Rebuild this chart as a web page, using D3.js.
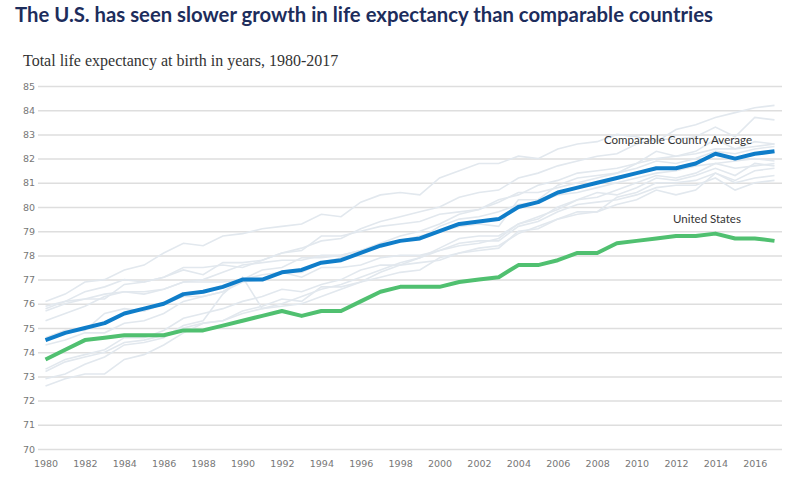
<!DOCTYPE html>
<html>
<head>
<meta charset="utf-8">
<script src="https://cdn.jsdelivr.net/npm/d3@7"></script>
<style>
  html, body { margin: 0; padding: 0; background: #fff; }
  svg { display: block; }
</style>
</head>
<body>
<svg id="chart" width="800" height="479"></svg>
<script>
const years = d3.range(1980, 2018);
const yTicks = [70,71,72,73,74,75,76,77,78,79,80,81,82,83,84,85];
const xTicks = d3.range(1980, 2017, 2);

const usValues = [73.7,74.1,74.5,74.6,74.7,74.7,74.7,74.9,74.9,75.1,75.3,75.5,75.7,75.5,75.7,75.7,76.1,76.5,76.7,76.7,76.7,76.9,77.0,77.1,77.6,77.6,77.8,78.1,78.1,78.5,78.6,78.7,78.8,78.8,78.9,78.7,78.7,78.6];
const avgValues = [74.5,74.8,75.0,75.2,75.6,75.8,76.0,76.4,76.5,76.7,77.0,77.0,77.3,77.4,77.7,77.8,78.1,78.4,78.6,78.7,79.0,79.3,79.4,79.5,80.0,80.2,80.6,80.8,81.0,81.2,81.4,81.6,81.6,81.8,82.2,82.0,82.2,82.3];

const japan = [76.1,76.4,76.9,77.0,77.4,77.6,78.1,78.5,78.4,78.8,78.9,79.1,79.2,79.3,79.7,79.6,80.2,80.5,80.6,80.5,81.2,81.5,81.8,81.8,82.1,82.0,82.4,82.6,82.7,83.0,82.9,82.7,83.2,83.4,83.7,83.9,84.1,84.2];
const sweden = [75.8,76.1,76.5,76.7,77.0,76.9,77.1,77.4,77.2,77.7,77.7,77.8,78.1,78.2,78.8,78.8,79.0,79.2,79.3,79.4,79.7,79.8,79.9,80.2,80.6,80.6,80.8,81.0,81.2,81.4,81.6,81.9,81.8,82.0,82.3,82.2,82.4,82.5];
const switzerland = [75.7,76.0,76.2,76.2,76.8,76.9,77.1,77.5,77.5,77.6,77.5,77.8,78.1,78.3,78.6,78.7,79.1,79.4,79.6,79.8,80.0,80.4,80.6,80.7,81.2,81.4,81.7,81.9,82.1,82.2,82.6,82.8,82.8,82.9,83.3,82.9,83.7,83.6];
const netherlands = [75.9,76.1,76.2,76.4,76.5,76.5,76.6,76.9,76.9,76.9,77.0,77.2,77.3,77.1,77.5,77.5,77.6,77.9,78.0,78.0,78.2,78.4,78.5,78.7,79.3,79.6,79.9,80.3,80.4,80.7,81.0,81.3,81.2,81.4,81.8,81.6,81.7,81.8];
const australia = [74.6,74.9,74.9,75.6,75.8,75.7,76.0,76.3,76.3,76.5,77.0,77.4,77.5,77.9,77.9,78.0,78.2,78.5,78.8,79.0,79.3,79.7,79.9,80.3,80.5,80.9,81.1,81.4,81.5,81.6,81.8,82.0,82.1,82.2,82.4,82.4,82.5,82.6];
const canada = [75.3,75.6,75.9,76.3,76.5,76.4,76.6,76.9,77.0,77.3,77.6,77.7,77.8,77.8,78.0,78.0,78.2,78.4,78.6,78.7,79.2,79.5,79.6,79.8,80.1,80.2,80.5,80.6,80.8,81.0,81.2,81.4,81.5,81.7,81.8,81.9,82.0,81.9];
const france = [74.3,74.5,74.8,74.8,75.2,75.3,75.6,76.1,76.3,76.5,76.9,77.0,77.3,77.3,77.7,77.9,78.1,78.4,78.6,78.8,79.0,79.2,79.3,79.2,80.3,80.3,80.9,81.2,81.3,81.4,81.8,82.3,82.1,82.3,82.8,82.4,82.7,82.6];
const belgium = [73.3,73.7,73.9,74.1,74.6,74.6,74.9,75.4,75.6,75.8,76.1,76.3,76.6,76.5,76.8,77.0,77.4,77.6,77.6,77.7,77.8,78.1,78.2,78.3,79.0,79.1,79.5,79.8,79.8,80.1,80.3,80.7,80.5,80.7,81.4,81.1,81.5,81.6];
const austria = [72.6,72.9,73.1,73.1,73.7,73.9,74.3,74.8,75.2,75.3,75.6,75.8,76.0,76.3,76.6,76.8,77.1,77.4,77.7,77.9,78.3,78.7,78.8,78.8,79.3,79.5,80.0,80.3,80.6,80.5,80.8,81.2,81.1,81.3,81.6,81.3,81.8,81.7];
const germany = [72.9,73.1,73.5,73.8,74.3,74.4,74.6,75.1,75.3,76.4,77.1,75.8,75.9,76.0,76.3,76.6,76.9,77.3,77.6,77.9,78.2,78.5,78.6,78.6,79.2,79.4,79.8,80.1,80.2,80.3,80.5,80.8,80.9,80.9,81.2,80.7,81.0,81.1];
const uk = [73.2,73.6,73.8,74.0,74.4,74.5,74.7,75.0,75.2,75.3,75.7,75.9,76.2,76.1,76.7,76.7,76.9,77.1,77.3,77.4,77.9,78.1,78.3,78.4,78.9,79.2,79.5,79.7,79.8,80.4,80.6,81.0,81.0,81.1,81.4,81.0,81.2,81.3];
const countryValues = [japan, sweden, switzerland, netherlands, australia, canada, france, belgium, austria, germany, uk];

const titleText = "The U.S. has seen slower growth in life expectancy than comparable countries";
const subtitleText = "Total life expectancy at birth in years, 1980-2017";
const avgLabel = "Comparable Country Average";
const usLabel = "United States";

const svg = d3.select("#chart");
const x = d3.scaleLinear().domain([1980, 2017]).range([45.5, 774.5]);
const y = d3.scaleLinear().domain([70, 85]).range([449, 86]);

svg.append("text")
  .attr("x", 15).attr("y", 22)
  .attr("font-family", "Lato, 'Open Sans', sans-serif")
  .attr("font-weight", 700)
  .attr("font-size", 20.3)
  .attr("fill", "#1d2d5c")
  .text(titleText);

svg.append("text")
  .attr("x", 23).attr("y", 66)
  .attr("font-family", "'Liberation Serif', 'DejaVu Serif', serif")
  .attr("font-size", 16)
  .attr("fill", "#333")
  .text(subtitleText);

// grid
const yAxis = d3.axisLeft(y).tickValues(yTicks).tickSize(-(782 - 38)).tickPadding(3).tickFormat(d3.format("d"));
const gy = svg.append("g").attr("transform", "translate(38,0)").call(yAxis);
gy.select(".domain").remove();
gy.selectAll(".tick line").attr("stroke", "#dedede").attr("stroke-width", 1.5);
gy.selectAll(".tick text")
  .attr("font-family", "'DejaVu Sans', Verdana, sans-serif")
  .attr("font-size", 9.5).attr("fill", "#777");

const xAxis = d3.axisBottom(x).tickValues(xTicks).tickSize(0).tickPadding(11).tickFormat(d3.format("d"));
const gx = svg.append("g").attr("transform", "translate(0,449)").call(xAxis);
gx.select(".domain").remove();
gx.selectAll(".tick text")
  .attr("font-family", "'DejaVu Sans', Verdana, sans-serif")
  .attr("font-size", 9.5).attr("fill", "#777");

const line = d3.line().x((d, i) => x(years[i])).y(d => y(d));

svg.append("g").selectAll("path").data(countryValues).join("path")
  .attr("d", d => line(d))
  .attr("fill", "none")
  .attr("stroke", "#e2e8ee")
  .attr("stroke-width", 1.6);

svg.append("path").attr("d", line(avgValues))
  .attr("fill", "none").attr("stroke", "#0f7dc9").attr("stroke-width", 4)
  .attr("stroke-linejoin", "round");

svg.append("path").attr("d", line(usValues))
  .attr("fill", "none").attr("stroke", "#50c070").attr("stroke-width", 4)
  .attr("stroke-linejoin", "round");

svg.append("text")
  .attr("x", 604).attr("y", 144)
  .attr("font-family", "Lato, 'Open Sans', sans-serif")
  .attr("font-size", 11.5).attr("fill", "#333")
  .text(avgLabel);

svg.append("text")
  .attr("x", 673).attr("y", 223)
  .attr("font-family", "Lato, 'Open Sans', sans-serif")
  .attr("font-size", 11.5).attr("fill", "#333")
  .text(usLabel);
</script>
</body>
</html>
